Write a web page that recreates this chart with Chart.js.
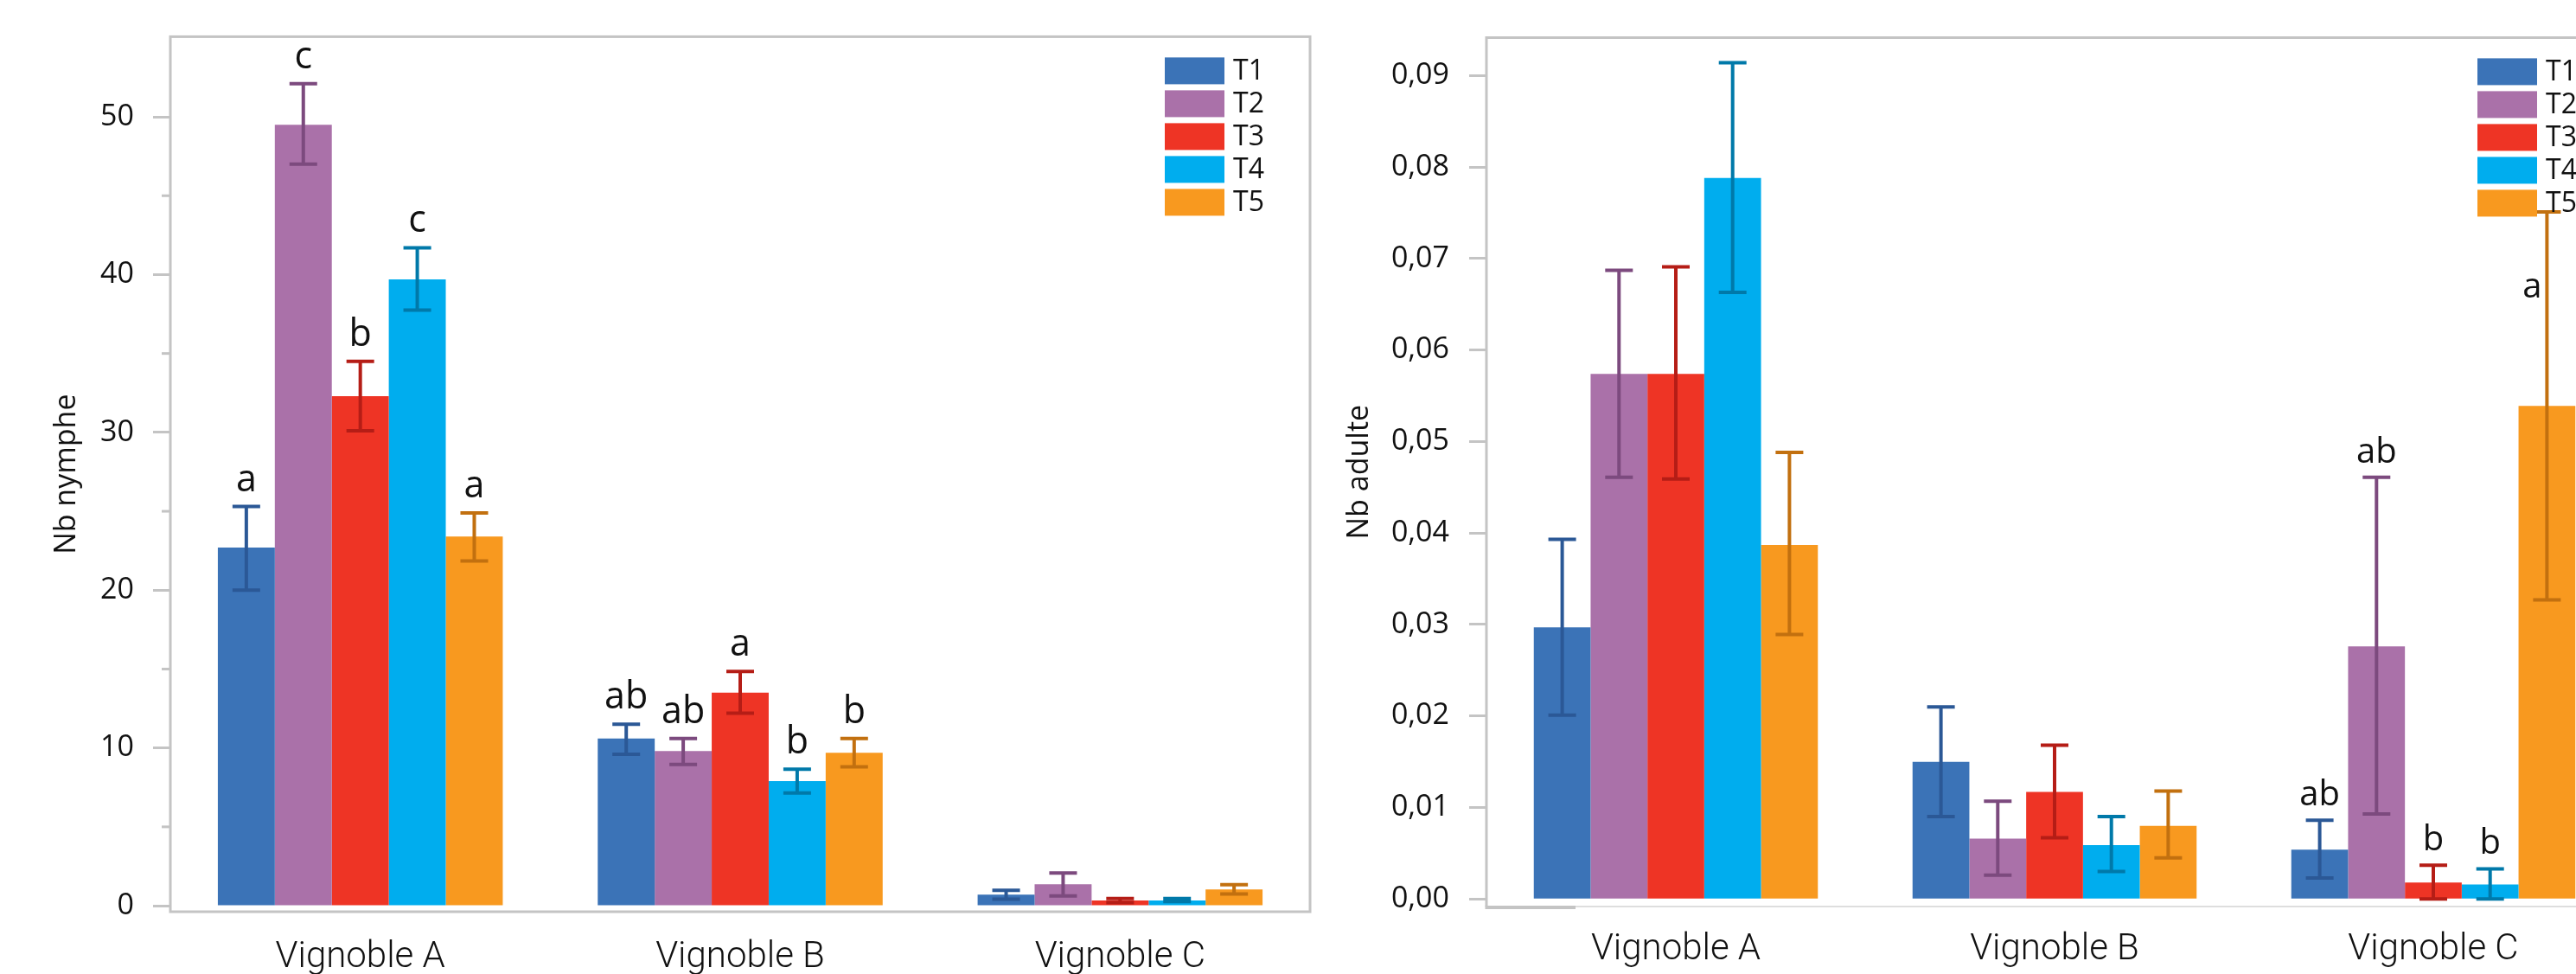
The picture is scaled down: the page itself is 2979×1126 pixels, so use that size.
<!DOCTYPE html>
<html>
<head>
<meta charset="utf-8">
<script src="https://cdn.jsdelivr.net/npm/chart.js@4.4.1/dist/chart.umd.min.js"></script>
<style>
  html, body { margin: 0; padding: 0; background: #fff; width: 2979px; height: 1126px; overflow: hidden; }
  #nymphe { position: absolute; left: 0; top: 0; }
  #adulte { position: absolute; left: 1545px; top: 0; }
</style>
</head>
<body>
<canvas id="nymphe" width="1545" height="1126"></canvas>
<canvas id="adulte" width="1545" height="1126"></canvas>
<script>
// Categories and series
const categories = ['Vignoble A', 'Vignoble B', 'Vignoble C'];
const treatments = ['T1', 'T2', 'T3', 'T4', 'T5'];
const barColors = ['#3b73b7', '#aa71a9', '#ee3425', '#00adee', '#f8991f'];
const errorColors = ['#2b5896', '#7c4a7e', '#b51d16', '#0079a9', '#c2700f'];

// Nb nymphe: one row per treatment, one value per vineyard
const nympheMeans = [
  [22.7, 10.6, 0.70],
  [49.5, 9.8, 1.36],
  [32.3, 13.5, 0.33],
  [39.7, 7.9, 0.33],
  [23.4, 9.7, 1.03]
];
const nympheLow = [
  [20.0, 9.6, 0.42],
  [47.0, 8.95, 0.62],
  [30.1, 12.2, 0.20],
  [37.75, 7.15, 0.26],
  [21.85, 8.8, 0.74]
];
const nympheHigh = [
  [25.3, 11.5, 0.98],
  [52.1, 10.6, 2.08],
  [34.5, 14.85, 0.45],
  [41.7, 8.65, 0.45],
  [24.9, 10.6, 1.34]
];
const nympheLetters = [
  ['a', 'ab', ''],
  ['c', 'ab', ''],
  ['b', 'a', ''],
  ['c', 'b', ''],
  ['a', 'b', '']
];
const nympheTicks = [0, 10, 20, 30, 40, 50];
const nympheMinorTicks = [5, 15, 25, 35, 45];

// Nb adulte
const adulteMeans = [
  [0.0297, 0.0150, 0.0054],
  [0.0574, 0.0066, 0.0276],
  [0.0574, 0.0117, 0.0018],
  [0.0788, 0.0059, 0.0016],
  [0.0387, 0.0080, 0.0539]
];
const adulteLow = [
  [0.0201, 0.0090, 0.0023],
  [0.0461, 0.0026, 0.0093],
  [0.0459, 0.0067, 0.0000],
  [0.0663, 0.0030, 0.0000],
  [0.0289, 0.0045, 0.0327]
];
const adulteHigh = [
  [0.0393, 0.0210, 0.0086],
  [0.0687, 0.0107, 0.0461],
  [0.0691, 0.0168, 0.0037],
  [0.0914, 0.0090, 0.0033],
  [0.0488, 0.0118, 0.0751]
];
const adulteLetters = [
  ['', '', 'ab'],
  ['', '', 'ab'],
  ['', '', 'b'],
  ['', '', 'b'],
  ['', '', 'a']
];
const adulteTicks = [0, 0.01, 0.02, 0.03, 0.04, 0.05, 0.06, 0.07, 0.08, 0.09];

const GREY = '#c4c4c4';
const TEXT = '#111';

// Plot frame around the chart area
const framePlugin = {
  id: 'frame',
  beforeDatasetsDraw(chart, args, opts) {
    const { ctx, chartArea: a } = chart;
    ctx.save();
    ctx.strokeStyle = GREY;
    ctx.lineWidth = 3;
    if (opts.full) {
      ctx.strokeRect(a.left, a.top, a.right - a.left, a.bottom - a.top);
    } else {
      ctx.beginPath();
      ctx.moveTo(a.left, a.bottom);
      ctx.lineTo(a.left, a.top);
      ctx.lineTo(a.right, a.top);
      ctx.stroke();
      ctx.strokeStyle = '#dedede';
      ctx.lineWidth = 2;
      ctx.beginPath();
      ctx.moveTo(a.left, a.bottom);
      ctx.lineTo(a.right, a.bottom);
      ctx.stroke();
      ctx.strokeStyle = GREY;
      ctx.lineWidth = 4;
      ctx.beginPath();
      ctx.moveTo(a.left - 1.5, a.bottom + 1);
      ctx.lineTo(a.left + 103, a.bottom + 1);
      ctx.stroke();
    }
    // minor ticks
    const y = chart.scales.y;
    ctx.lineWidth = 3;
    (opts.minor || []).forEach(v => {
      const py = y.getPixelForValue(v);
      ctx.beginPath();
      ctx.moveTo(a.left - 10, py);
      ctx.lineTo(a.left, py);
      ctx.stroke();
    });
    ctx.restore();
  }
};

// Error bars and significance letters
const errorPlugin = {
  id: 'errorBars',
  afterDatasetsDraw(chart, args, opts) {
    const { ctx } = chart;
    const y = chart.scales.y;
    ctx.save();
    chart.data.datasets.forEach((ds, i) => {
      const meta = chart.getDatasetMeta(i);
      meta.data.forEach((bar, j) => {
        const x = bar.x;
        const yl = y.getPixelForValue(ds.errLow[j]);
        const yh = y.getPixelForValue(ds.errHigh[j]);
        ctx.strokeStyle = ds.errColor;
        ctx.lineWidth = 4;
        ctx.beginPath();
        ctx.moveTo(x, yl);
        ctx.lineTo(x, yh);
        ctx.moveTo(x - 16, yh);
        ctx.lineTo(x + 16, yh);
        ctx.moveTo(x - 16, yl);
        ctx.lineTo(x + 16, yl);
        ctx.stroke();
        const letter = ds.letters[j];
        if (letter) {
          let lx = x, ly = yh - opts.gap;
          const s = opts.shift;
          if (s && s.dataset === i && s.index === j) { lx += s.dx; ly += s.dy; }
          ctx.fillStyle = TEXT;
          ctx.font = opts.size + 'px "Open Sans"';
          ctx.textAlign = 'center';
          ctx.textBaseline = 'alphabetic';
          ctx.fillText(letter, lx, ly);
        }
      });
    });
    ctx.restore();
  }
};

// Legend in the top right corner of the plot area
const legendPlugin = {
  id: 'cornerLegend',
  afterDraw(chart) {
    const { ctx, chartArea: a } = chart;
    ctx.save();
    chart.data.datasets.forEach((ds, i) => {
      const bx = a.right - 168;
      const by = a.top + 24 + i * 38;
      ctx.fillStyle = ds.backgroundColor;
      ctx.fillRect(bx, by, 69, 31);
      ctx.fillStyle = TEXT;
      ctx.font = '32px "Open Sans"';
      ctx.textAlign = 'left';
      ctx.textBaseline = 'middle';
      ctx.fillText(ds.label, bx + 79, by + 16);
    });
    ctx.restore();
  }
};

function makeDatasets(means, low, high, letters) {
  return treatments.map((t, i) => ({
    label: t,
    data: means[i],
    errLow: low[i],
    errHigh: high[i],
    letters: letters[i],
    backgroundColor: barColors[i],
    errColor: errorColors[i],
    borderWidth: 0,
    categoryPercentage: 0.75,
    barPercentage: 1.0
  }));
}

function makeChart(id, cfg) {
  return new Chart(document.getElementById(id), {
    type: 'bar',
    data: {
      labels: categories,
      datasets: makeDatasets(cfg.means, cfg.low, cfg.high, cfg.letters)
    },
    plugins: [framePlugin, errorPlugin, legendPlugin],
    options: {
      responsive: false,
      animation: false,
      events: [],
      layout: { padding: cfg.padding },
      plugins: {
        legend: { display: false },
        tooltip: { enabled: false },
        frame: { full: cfg.fullFrame, minor: cfg.minor },
        errorBars: { shift: cfg.shift, size: cfg.letterSize, gap: cfg.letterGap }
      },
      scales: {
        x: {
          afterFit: s => { s.height = cfg.xHeight; },
          border: { display: false },
          grid: { display: false, drawTicks: false },
          ticks: {
            color: TEXT,
            padding: cfg.xPad,
            font: { family: 'Roboto', size: 42, weight: 300 }
          }
        },
        y: {
          min: cfg.min,
          max: cfg.max,
          afterBuildTicks: s => { s.ticks = cfg.ticks.map(v => ({ value: v })); },
          afterFit: s => { s.width = cfg.yWidth; },
          border: { display: false },
          grid: {
            drawOnChartArea: false,
            drawTicks: true,
            tickLength: 20,
            tickWidth: 3,
            tickColor: GREY
          },
          ticks: {
            color: TEXT,
            padding: cfg.yPad,
            font: { family: 'Open Sans', size: 34 },
            callback: cfg.format
          },
          title: {
            display: true,
            text: cfg.title,
            color: TEXT,
            font: { family: 'Open Sans', size: 34 },
            padding: { top: cfg.titlePad, bottom: 0 }
          }
        }
      }
    }
  });
}

makeChart('nymphe', {
  means: nympheMeans, low: nympheLow, high: nympheHigh, letters: nympheLetters,
  ticks: nympheTicks, minor: nympheMinorTicks,
  min: -0.38, max: 55.08,
  padding: { top: 32, right: 30, left: 0, bottom: 0 },
  yWidth: 197, xHeight: 72, xPad: 28, yPad: 22, titlePad: 57,
  letterSize: 43, letterGap: 18,
  fullFrame: true,
  title: 'Nb nymphe',
  format: v => String(v)
});

makeChart('adulte', {
  means: adulteMeans, low: adulteLow, high: adulteHigh, letters: adulteLetters,
  ticks: adulteTicks, minor: [],
  min: -0.00082, max: 0.09415,
  padding: { top: 29, right: 57, left: 0, bottom: 0 },
  yWidth: 174, xHeight: 78, xPad: 25, yPad: 23, titlePad: 7,
  letterSize: 40, letterGap: 17,
  fullFrame: false,
  title: 'Nb adulte',
  shift: { dataset: 4, index: 2, dx: -17, dy: 116 },
  format: v => v.toFixed(2).replace('.', ',')
});
</script>
</body>
</html>
